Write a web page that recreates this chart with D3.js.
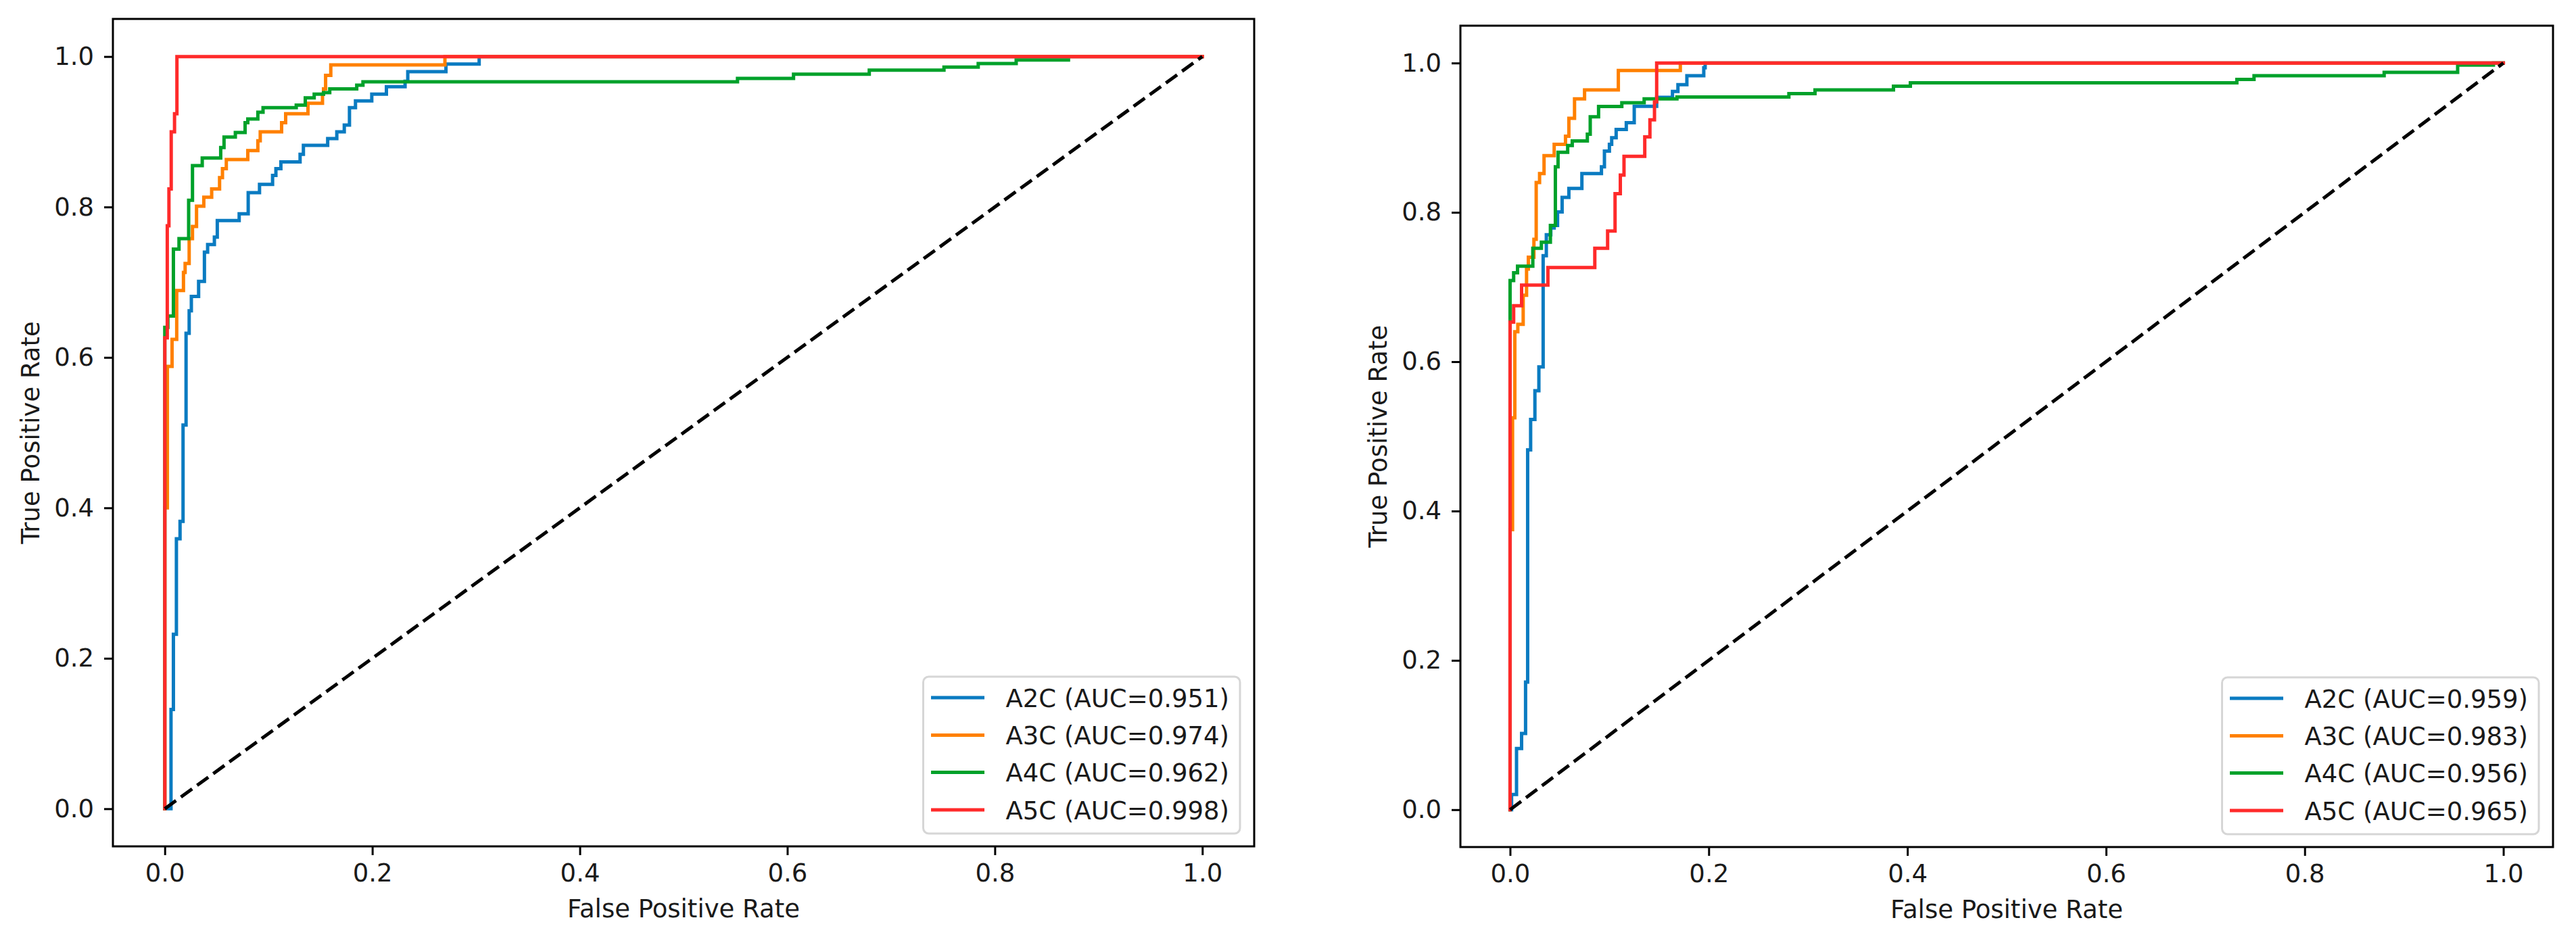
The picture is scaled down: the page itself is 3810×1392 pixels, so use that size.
<!DOCTYPE html>
<html>
<head>
<meta charset="utf-8">
<script src="https://cdn.jsdelivr.net/npm/d3@7"></script>
<style>
  body { margin: 0; background: #fff; }
  text { font-family: "DejaVu Sans", sans-serif; fill: #1a1a1a; }
</style>
</head>
<body>
<svg id="chart" width="3810" height="1392"></svg>
<script>
// Series names, colours and AUC values for each panel
var seriesNames = ["A2C", "A3C", "A4C", "A5C"];
var seriesColors = ["#0a7bc1", "#ff8000", "#00a12a", "#ff2a2a"];
var aucLeft = [0.951, 0.974, 0.962, 0.998];
var aucRight = [0.959, 0.983, 0.956, 0.965];
var tickValues = [0.0, 0.2, 0.4, 0.6, 0.8, 1.0];

// Left panel ROC steps (fpr where tpr jumps, tpr after the jump)
var leftA2CFpr = [0, 0.006, 0.0083, 0.0112, 0.0147, 0.0176, 0.0205, 0.0235, 0.0256, 0.0326, 0.0382, 0.0413, 0.0478, 0.0506, 0.0717, 0.0804, 0.0913, 0.1039, 0.1071, 0.1119, 0.1304, 0.1336, 0.157, 0.1658, 0.173, 0.178, 0.1838, 0.1995, 0.2136, 0.2316, 0.2342, 0.271, 0.303, 1];
var leftA2CTpr = [0, 0.132, 0.232, 0.359, 0.382, 0.51, 0.632, 0.662, 0.681, 0.701, 0.740, 0.750, 0.760, 0.782, 0.791, 0.819, 0.830, 0.842, 0.851, 0.860, 0.870, 0.882, 0.891, 0.900, 0.909, 0.932, 0.941, 0.950, 0.960, 0.967, 0.980, 0.990, 1.0, 1.0];

var leftA3CFpr = [0, 0, 0.0025, 0.007, 0.0115, 0.018, 0.0196, 0.0235, 0.0267, 0.0306, 0.0376, 0.0452, 0.0528, 0.0556, 0.0593, 0.080, 0.0897, 0.092, 0.1126, 0.1165, 0.138, 0.152, 0.153, 0.155, 0.160, 0.27, 1];
var leftA3CTpr = [0, 0.40, 0.588, 0.624, 0.689, 0.713, 0.725, 0.758, 0.774, 0.801, 0.813, 0.824, 0.839, 0.851, 0.863, 0.875, 0.888, 0.900, 0.912, 0.924, 0.938, 0.950, 0.957, 0.975, 0.989, 1.0, 1.0];

var leftA4CFpr = [0, 0, 0.003, 0.0083, 0.0137, 0.0230, 0.0267, 0.0361, 0.0539, 0.0571, 0.068, 0.0774, 0.080, 0.0897, 0.0947, 0.1267, 0.1354, 0.144, 0.153, 0.159, 0.185, 0.191, 0.552, 0.606, 0.679, 0.751, 0.784, 0.8206, 0.871];
var leftA4CTpr = [0, 0.64, 0.655, 0.744, 0.758, 0.809, 0.855, 0.865, 0.879, 0.893, 0.899, 0.912, 0.917, 0.926, 0.932, 0.9355, 0.945, 0.950, 0.952, 0.957, 0.962, 0.9665, 0.971, 0.9766, 0.982, 0.986, 0.9907, 0.9955, 0.9955];

var leftA5CFpr = [0, 0, 0.0024, 0.004, 0.0062, 0.0094, 0.0117, 1];
var leftA5CTpr = [0, 0.626, 0.775, 0.824, 0.900, 0.924, 1.0, 1.0];

// Right panel ROC steps
var rightA2CFpr = [0, 0.0015, 0.0065, 0.0116, 0.0156, 0.0177, 0.0207, 0.025, 0.029, 0.0333, 0.0365, 0.041, 0.0444, 0.0478, 0.0524, 0.0592, 0.0723, 0.092, 0.095, 0.100, 0.1023, 0.1068, 0.117, 0.125, 0.1476, 0.1635, 0.169, 0.178, 0.195, 0.1964, 1];
var rightA2CTpr = [0, 0.0204, 0.082, 0.102, 0.171, 0.482, 0.5226, 0.561, 0.593, 0.742, 0.770, 0.779, 0.7825, 0.8006, 0.820, 0.832, 0.852, 0.861, 0.882, 0.891, 0.900, 0.911, 0.920, 0.942, 0.954, 0.962, 0.971, 0.983, 0.9937, 1.0, 1.0];

var rightA3CFpr = [0, 0, 0.0025, 0.0048, 0.0078, 0.0132, 0.0166, 0.0184, 0.024, 0.0263, 0.0297, 0.0342, 0.0444, 0.0558, 0.0592, 0.0649, 0.075, 0.109, 0.1714, 1];
var rightA3CTpr = [0, 0.375, 0.525, 0.64, 0.65, 0.689, 0.724, 0.740, 0.764, 0.840, 0.852, 0.876, 0.891, 0.902, 0.926, 0.952, 0.964, 0.990, 1.0, 1.0];

var rightA4CFpr = [0, 0, 0.0036, 0.0075, 0.0229, 0.0315, 0.0406, 0.0456, 0.0483, 0.058, 0.0626, 0.0778, 0.0807, 0.0891, 0.1125, 0.135, 0.168, 0.2807, 0.307, 0.386, 0.403, 0.7317, 0.749, 0.880, 0.954, 0.99, 1];
var rightA4CTpr = [0, 0.7086, 0.719, 0.728, 0.752, 0.760, 0.7825, 0.861, 0.8805, 0.8896, 0.8956, 0.9047, 0.928, 0.9418, 0.9469, 0.952, 0.9545, 0.959, 0.964, 0.969, 0.9735, 0.978, 0.983, 0.9876, 0.9973, 1.0, 1.0];

var rightA5CFpr = [0, 0, 0.0036, 0.0116, 0.0381, 0.0853, 0.0982, 0.1057, 0.111, 0.1147, 0.1356, 0.1408, 0.1454, 0.1476, 1];
var rightA5CTpr = [0, 0.653, 0.675, 0.7026, 0.726, 0.752, 0.775, 0.825, 0.850, 0.875, 0.901, 0.924, 0.948, 1.0, 1.0];

var chanceFpr = [0, 1];
var chanceTpr = [0, 1];

var svg = d3.select("#chart");
var fontSize = 37;

// Draw one ROC panel
function drawPanel(box, fprs, tprs, aucs) {
  var x = d3.scaleLinear().domain([-0.05, 1.05]).range([box.left, box.right]);
  var y = d3.scaleLinear().domain([-0.05, 1.05]).range([box.bottom, box.top]);
  var g = svg.append("g");

  var line = d3.line()
    .x(d => x(d[0]))
    .y(d => y(d[1]))
    .curve(d3.curveStepAfter);

  fprs.forEach((fpr, i) => {
    var pts = fpr.map((f, k) => [f, tprs[i][k]]);
    g.append("path")
      .attr("d", line(pts))
      .attr("fill", "none")
      .attr("stroke", seriesColors[i])
      .attr("stroke-width", 5)
      .attr("stroke-linecap", "square")
      .attr("stroke-linejoin", "miter");
  });

  // chance diagonal
  var diag = chanceFpr.map((f, k) => [f, chanceTpr[k]]);
  g.append("path")
    .attr("d", d3.line().x(d => x(d[0])).y(d => y(d[1]))(diag))
    .attr("fill", "none")
    .attr("stroke", "#000")
    .attr("stroke-width", 5)
    .attr("stroke-dasharray", "20.5,9");

  // axes
  var xAxis = d3.axisBottom(x).tickValues(tickValues).tickFormat(d3.format(".1f"))
    .tickSize(13).tickPadding(13).tickSizeOuter(0);
  var yAxis = d3.axisLeft(y).tickValues(tickValues).tickFormat(d3.format(".1f"))
    .tickSize(13).tickPadding(15).tickSizeOuter(0);

  var gx = g.append("g").attr("transform", `translate(0,${box.bottom})`).call(xAxis);
  var gy = g.append("g").attr("transform", `translate(${box.left},0)`).call(yAxis);
  [gx, gy].forEach(a => {
    a.select(".domain").remove();
    a.selectAll(".tick line").attr("stroke", "#000").attr("stroke-width", 3);
    a.selectAll(".tick text")
      .attr("font-family", "DejaVu Sans")
      .attr("font-size", fontSize)
      .attr("fill", "#1a1a1a");
  });

  // frame
  g.append("rect")
    .attr("x", box.left).attr("y", box.top)
    .attr("width", box.right - box.left).attr("height", box.bottom - box.top)
    .attr("fill", "none").attr("stroke", "#000").attr("stroke-width", 3);

  // axis labels
  g.append("text")
    .attr("x", (box.left + box.right) / 2)
    .attr("y", box.bottom + 105)
    .attr("text-anchor", "middle")
    .attr("font-size", fontSize)
    .text("False Positive Rate");

  g.append("text")
    .attr("transform", `translate(${box.left - 109},${(box.top + box.bottom) / 2}) rotate(-90)`)
    .attr("text-anchor", "middle")
    .attr("font-size", fontSize)
    .text("True Positive Rate");

  // legend
  var leg = g.append("g");
  var labels = seriesNames.map((n, i) => `${n} (AUC=${aucs[i].toFixed(3)})`);
  var texts = labels.map(l => leg.append("text").attr("font-size", fontSize).text(l));
  var textW = d3.max(texts, t => t.node().getComputedTextLength());
  var legW = 122 + textW + 16;
  var legH = 232;
  var lx = box.right - 21 - legW;
  var ly = box.bottom - 19 - legH;
  var rowY = [31, 86.5, 141.5, 197];

  leg.insert("rect", ":first-child")
    .attr("x", lx).attr("y", ly)
    .attr("width", legW).attr("height", legH)
    .attr("rx", 8).attr("ry", 8)
    .attr("fill", "#fff").attr("fill-opacity", 0.8)
    .attr("stroke", "#d6d6d6").attr("stroke-width", 3);

  labels.forEach((l, i) => {
    leg.append("line")
      .attr("x1", lx + 14).attr("x2", lx + 88)
      .attr("y1", ly + rowY[i]).attr("y2", ly + rowY[i])
      .attr("stroke", seriesColors[i]).attr("stroke-width", 5)
      .attr("stroke-linecap", "square");
    texts[i].attr("x", lx + 122).attr("y", ly + rowY[i] + 13.5);
  });
}

drawPanel({left: 167, right: 1855, top: 28, bottom: 1252},
  [leftA2CFpr, leftA3CFpr, leftA4CFpr, leftA5CFpr],
  [leftA2CTpr, leftA3CTpr, leftA4CTpr, leftA5CTpr], aucLeft);

drawPanel({left: 2160, right: 3776, top: 38, bottom: 1253},
  [rightA2CFpr, rightA3CFpr, rightA4CFpr, rightA5CFpr],
  [rightA2CTpr, rightA3CTpr, rightA4CTpr, rightA5CTpr], aucRight);
</script>
</body>
</html>
